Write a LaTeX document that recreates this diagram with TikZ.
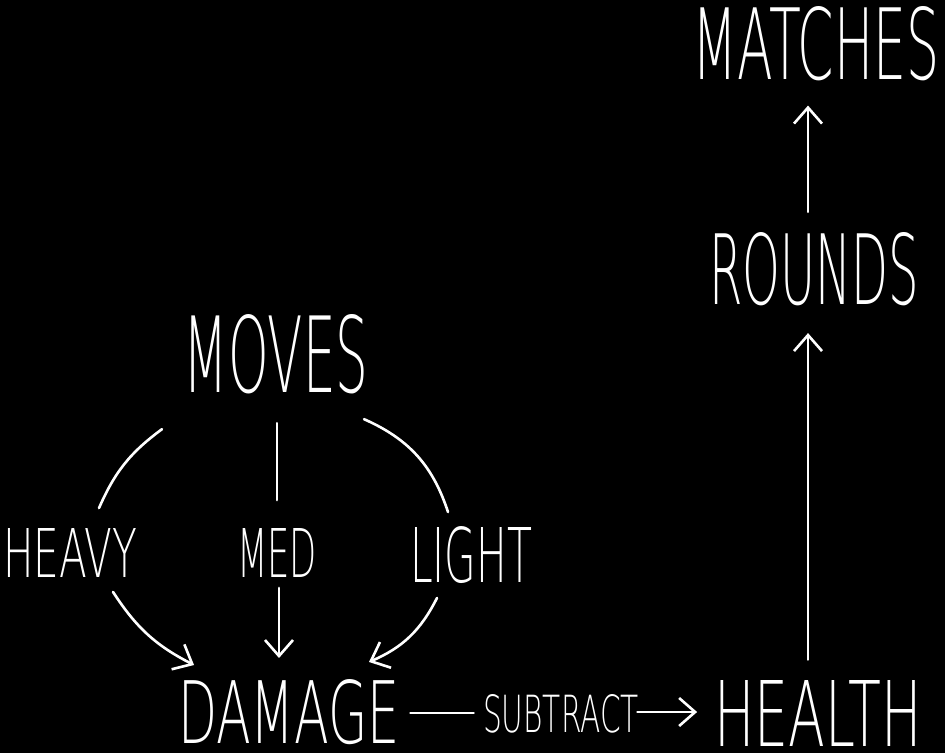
\documentclass[tikz,border=0pt]{standalone}
\usepackage{graphicx}
\usepackage{fontspec}
\IfFontExistsTF{DejaVu Sans ExtraLight}
  {\setmainfont{DejaVu Sans ExtraLight}}
  {\setmainfont{DejaVu Sans}}
\usepackage{tikz}
\usetikzlibrary{arrows.meta,calc}
\definecolor{board}{HTML}{000000}
\definecolor{chalk}{HTML}{FFFFFF}
% stretch a word to the box it fills in the sketch (pt)
\newcommand{\handword}[3]{\resizebox{#1pt}{#2pt}{#3}}

\begin{document}
\begin{tikzpicture}[x=0.5pt,y=-0.5pt,
  word/.style={text=chalk,inner sep=0pt,font=\fontsize{40}{40}\selectfont},
  link/.style={draw=chalk,line width=1.3pt,line cap=round},
  arrow/.style={link,-{Straight Barb[length=8pt,width=14pt,line width=1.3pt]}}
]
\fill[board] (0,0) rectangle (945,753);

\node[word] (matches) at (816,44) {\handword{123.5}{36.5}{MATCHES}};
\node[word] (rounds) at (814,269) {\handword{105}{36}{ROUNDS}};
\node[word] (moves) at (276,354) {\handword{92.5}{39}{MOVES}};
\node[word] (heavy) at (70,553) {\handword{67}{24.5}{HEAVY}};
\node[word] (med) at (277,553) {\handword{40}{24.5}{MED}};
\node[word] (light) at (471,555) {\handword{61}{28}{LIGHT}};
\node[word] (damage) at (289,712) {\handword{111}{32}{DAMAGE}};
\node[word] (subtract) at (561,714) {\handword{78}{19}{SUBTRACT}};
\node[word] (health) at (818,713) {\handword{103.5}{33}{HEALTH}};

\draw[link] ($(moves.south)+(-114,35)$) to[bend right=15] ($(heavy.north)+(29,-20)$);
\draw[link] ($(moves.south)+(1,29)$) -- ($(med.north)+(0,-28)$);
\draw[link] ($(moves.south)+(88,25)$) to[bend left=24] ($(light.north)+(-23,-14)$);

\draw[arrow] ($(heavy.south)+(43,14)$) to[bend right=15] ($(damage.north)+(-95,-14)$);
\draw[arrow] ($(med.south)+(2,10)$) -- ($(damage.north)+(-10,-21)$);
\draw[arrow] ($(light.south)+(-34,14)$) to[bend left=20] ($(damage.north)+(80,-17)$);

\draw[link] ($(damage.east)+(10,1)$) -- ($(subtract.west)+(-9,-1)$);
\draw[arrow] ($(subtract.east)+(-2,-2)$) -- ($(health.west)+(-17,-1)$);
\draw[arrow] ($(health.north)+(-10,-20)$) -- ($(rounds.south)+(-6,27)$);
\draw[arrow] ($(rounds.north)+(-6,-20)$) -- ($(matches.south)+(-8,24)$);
\end{tikzpicture}
\end{document}
